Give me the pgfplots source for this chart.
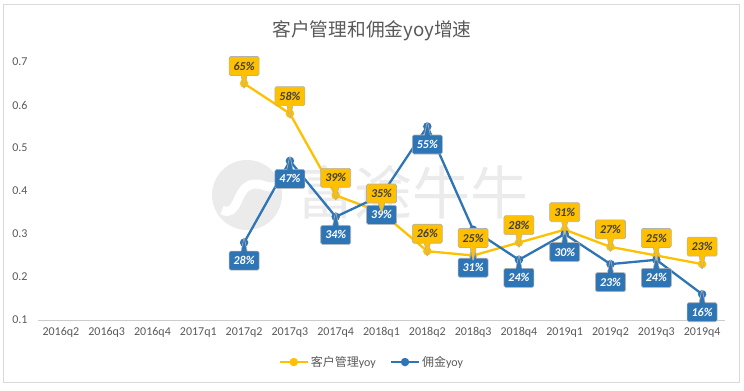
\documentclass[border=0pt]{standalone}
\usepackage{pgfplots}
\pgfplotsset{compat=1.18}
\usepackage{fontspec}
\setmainfont{Carlito}
\newfontfamily\cjk{Noto Sans CJK SC}
\usetikzlibrary{shapes.callouts}
\definecolor{ygold}{HTML}{FFC000}
\definecolor{bblue}{HTML}{2E75B6}
\definecolor{txt}{HTML}{595959}
\definecolor{lbltxt}{HTML}{404040}
\definecolor{wm}{HTML}{EBEBEB}
\tikzset{lbl/.style={rectangle callout, rounded corners=1.5bp, draw=black!30, line width=0.6bp,
    minimum width=30bp, minimum height=19bp, inner sep=1bp, callout pointer width=6bp,
    font=\fontsize{12bp}{14bp}\selectfont\bfseries\itshape}}
\begin{document}
\begin{tikzpicture}[x=1bp,y=1bp]
\path[use as bounding box] (0,0) rectangle (744,390);
\draw[color=black!15, line width=0.8bp] (3.5,7.5) rectangle (739.5,385.5);
% watermark
\fill[wm] (247,195) circle (35);
\draw[white, line width=9] (222,180) .. controls (238,172) and (236,200) .. (250,205) .. controls (262,209) and (266,200) .. (276,204);
\node[text=wm, font=\cjk\fontsize{58bp}{60bp}\selectfont] at (412,198) {富途牛牛};
% title
\node[text=txt, font=\cjk\fontsize{18.7bp}{22bp}\selectfont] at (372,359) {客户管理和佣金yoy增速};
\begin{axis}[
  at={(38bp,70bp)}, anchor=south west,
  scale only axis, width=687bp, height=258bp,
  xmin=-0.5, xmax=14.5, ymin=0.1, ymax=0.7,
  xtick={0,...,14},
  xticklabels={2016q2,2016q3,2016q4,2017q1,2017q2,2017q3,2017q4,2018q1,2018q2,2018q3,2018q4,2019q1,2019q2,2019q3,2019q4},
  ytick={0.1,0.2,0.3,0.4,0.5,0.6,0.7},
  yticklabel style={/pgf/number format/fixed, /pgf/number format/fixed zerofill, /pgf/number format/precision=1, /pgf/number format/assume math mode=true, xshift=-7bp},
  major tick length=0pt,
  axis line style={draw=none},
  tick label style={text=txt, font=\fontsize{12bp}{14bp}\selectfont},
  xticklabel style={yshift=-4bp},
  clip=false,
  legend style={at={(0.486,-0.163)}, anchor=center, draw=none, fill=none,
    legend columns=2, font=\fontsize{12bp}{14bp}\selectfont, text=txt,
    /tikz/every even column/.append style={column sep=12bp}},
  legend image code/.code={\draw[mark repeat=2,mark phase=2,#1] plot coordinates {(0bp,0bp) (14bp,0bp) (28bp,0bp)};},
]
\draw[black!20, line width=0.8bp] (rel axis cs:0,0) -- (rel axis cs:1,0);
\addplot[color=ygold, line width=2.3bp, mark=*, mark size=3bp, mark options={fill=ygold}]
  coordinates {(4,0.65) (5,0.58) (6,0.39) (7,0.35) (8,0.26) (9,0.25) (10,0.28) (11,0.31) (12,0.27) (13,0.25) (14,0.23)};
\addlegendentry{{\cjk 客户管理}yoy}
\addplot[color=bblue, line width=2.3bp, mark=*, mark size=3bp, mark options={fill=bblue}]
  coordinates {(4,0.28) (5,0.47) (6,0.34) (7,0.39) (8,0.55) (9,0.31) (10,0.24) (11,0.30) (12,0.23) (13,0.24) (14,0.16)};
\addlegendentry{{\cjk 佣金}yoy}
% blue labels
\addplot[draw=none, forget plot, point meta=y*100,
  nodes near coords={\pgfmathprintnumber[fixed,precision=0,assume math mode=true]{\pgfplotspointmeta}\%},
  every node near coord/.append style={lbl, fill=bblue, text=white, anchor=center, yshift=-18bp,
    callout relative pointer={(90:14bp)}}]
  coordinates {(4,0.28) (5,0.47) (6,0.34) (8,0.55) (10,0.24) (11,0.30) (12,0.23) (13,0.24) (14,0.16)};
\addplot[draw=none, forget plot, point meta=y*100,
  nodes near coords={\pgfmathprintnumber[fixed,precision=0,assume math mode=true]{\pgfplotspointmeta}\%},
  every node near coord/.append style={lbl, fill=bblue, text=white, anchor=center, yshift=-19.5bp,
    callout relative pointer={(90:14bp)}}]
  coordinates {(7,0.39)};
\addplot[draw=none, forget plot, point meta=y*100,
  nodes near coords={\pgfmathprintnumber[fixed,precision=0,assume math mode=true]{\pgfplotspointmeta}\%},
  every node near coord/.append style={lbl, fill=bblue, text=white, anchor=center, yshift=-38bp,
    callout relative pointer={(90:28bp)}}]
  coordinates {(9,0.31)};
% yellow labels on top
\addplot[draw=none, forget plot, point meta=y*100,
  nodes near coords={\pgfmathprintnumber[fixed,precision=0,assume math mode=true]{\pgfplotspointmeta}\%},
  every node near coord/.append style={lbl, fill=ygold, text=lbltxt, anchor=center, yshift=17.5bp,
    callout relative pointer={(270:14bp)}}]
  coordinates {(4,0.65) (5,0.58) (6,0.39) (8,0.26) (9,0.25) (10,0.28) (11,0.31) (12,0.27) (13,0.25) (14,0.23)};
\addplot[draw=none, forget plot, point meta=y*100,
  nodes near coords={\pgfmathprintnumber[fixed,precision=0,assume math mode=true]{\pgfplotspointmeta}\%},
  every node near coord/.append style={lbl, fill=ygold, text=lbltxt, anchor=center, yshift=19bp,
    callout relative pointer={(270:10.5bp)}}]
  coordinates {(7,0.35)};
\end{axis}
\end{tikzpicture}
\end{document}
